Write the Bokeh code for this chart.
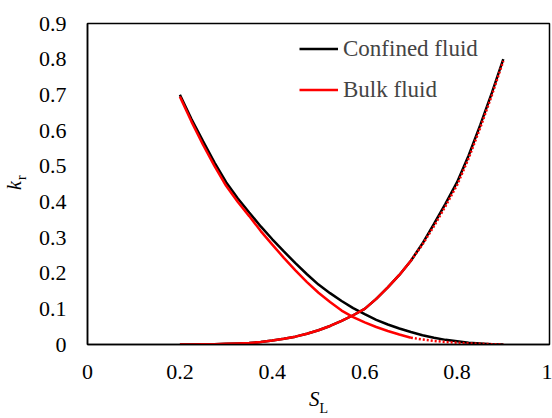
from bokeh.plotting import figure
from bokeh.models import Range1d, FixedTicker, Legend, LegendItem, ColumnDataSource, LinearAxis
from bokeh.embed import file_html
from bokeh.resources import INLINE

# ---- data ----
s_liquid = [0.200, 0.225, 0.250, 0.275, 0.300, 0.325, 0.350, 0.375, 0.400, 0.425, 0.450, 0.475,
            0.500, 0.525, 0.550, 0.575, 0.600, 0.625, 0.650, 0.675, 0.700, 0.725, 0.750, 0.775,
            0.800, 0.825, 0.850, 0.875, 0.900]
confined_kr_liquid = [0.000, 0.000, 0.0005, 0.001, 0.002, 0.003, 0.004, 0.007, 0.011, 0.016, 0.022, 0.030,
                      0.040, 0.052, 0.066, 0.082, 0.100, 0.128, 0.160, 0.195, 0.235, 0.283, 0.338, 0.395,
                      0.455, 0.530, 0.615, 0.705, 0.800]
confined_kr_gas = [0.700, 0.632, 0.570, 0.510, 0.455, 0.410, 0.370, 0.331, 0.295, 0.261, 0.228, 0.197,
                   0.168, 0.144, 0.122, 0.102, 0.085, 0.069, 0.056, 0.045, 0.035, 0.026, 0.019, 0.013,
                   0.009, 0.005, 0.003, 0.001, 0.000]
bulk_kr_liquid = [0.000, 0.000, 0.0005, 0.001, 0.002, 0.003, 0.004, 0.007, 0.011, 0.016, 0.022, 0.030,
                  0.040, 0.052, 0.066, 0.082, 0.100, 0.128, 0.160, 0.195, 0.235, 0.280, 0.332, 0.388,
                  0.447, 0.522, 0.607, 0.698, 0.795]
bulk_kr_gas = [0.695, 0.625, 0.560, 0.500, 0.445, 0.400, 0.360, 0.318, 0.280, 0.243, 0.208, 0.175,
               0.145, 0.119, 0.095, 0.077, 0.062, 0.049, 0.038, 0.028, 0.019, 0.014, 0.010, 0.007,
               0.005, 0.003, 0.002, 0.001, 0.000]
bulk_solid_until = 0.70  # bulk curves drawn solid up to here, dotted beyond

x_tick_values = [0, 0.2, 0.4, 0.6, 0.8, 1.0]
x_tick_labels = ["0", "0.2", "0.4", "0.6", "0.8", "1"]
y_tick_values = [0, 0.1, 0.2, 0.3, 0.4, 0.5, 0.6, 0.7, 0.8, 0.9]
y_tick_labels = ["0", "0.1", "0.2", "0.3", "0.4", "0.5", "0.6", "0.7", "0.8", "0.9"]
series_names = ["Confined fluid", "Bulk fluid"]
x_title = ("S", "L")   # S with subscript L
y_title = ("k", "r")   # k with subscript r

FONT = "Liberation Serif"

p = figure(width=552, height=418, x_range=Range1d(0, 1), y_range=Range1d(0, 0.9),
           output_backend="svg", toolbar_location=None,
           min_border_left=87, min_border_right=3, min_border_top=23, min_border_bottom=74)
p.background_fill_color = "white"
p.border_fill_color = "white"
p.xgrid.visible = False
p.ygrid.visible = False
p.outline_line_color = "black"
p.outline_line_width = 1.5
p.outline_line_alpha = 1.0


def plain_axis(ax, size, style="normal"):
    ax.axis_line_color = None
    ax.major_tick_line_color = None
    ax.minor_tick_line_color = None
    ax.major_tick_out = 0
    ax.major_tick_in = 0
    ax.major_label_text_font = FONT
    ax.major_label_text_font_size = size
    ax.major_label_text_font_style = style
    ax.major_label_text_color = "black"


for ax in (p.xaxis[0], p.yaxis[0]):
    plain_axis(ax, "22px")
    ax.axis_line_color = "black"
    ax.axis_line_width = 1.5

p.xaxis.ticker = FixedTicker(ticks=x_tick_values)
p.xaxis.major_label_overrides = {v: l for v, l in zip(x_tick_values, x_tick_labels)}
p.xaxis.major_label_standoff = 20
p.yaxis.ticker = FixedTicker(ticks=y_tick_values)
p.yaxis.major_label_overrides = {v: l for v, l in zip(y_tick_values, y_tick_labels)}
p.yaxis.major_label_standoff = 21

# axis titles built from extra label-only axes (main letter + subscript)
S_AT, L_AT = 0.4907, 0.5113     # horizontal text positions (axis units)
K_AT, R_AT = 0.446, 0.468       # vertical text positions (axis units)

ax_s = LinearAxis(ticker=FixedTicker(ticks=[S_AT]), major_label_overrides={S_AT: x_title[0]})
plain_axis(ax_s, "21px", "italic")
ax_s.major_label_standoff = 5
p.add_layout(ax_s, "below")
ax_l = LinearAxis(ticker=FixedTicker(ticks=[L_AT]), major_label_overrides={L_AT: x_title[1]})
plain_axis(ax_l, "14px")
ax_l.major_label_standoff = -13
p.add_layout(ax_l, "below")

ax_r = LinearAxis(ticker=FixedTicker(ticks=[R_AT]), major_label_overrides={R_AT: y_title[1]})
plain_axis(ax_r, "14px")
ax_r.major_label_orientation = "vertical"
ax_r.major_label_standoff = 6
p.add_layout(ax_r, "left")
ax_k = LinearAxis(ticker=FixedTicker(ticks=[K_AT]), major_label_overrides={K_AT: y_title[0]})
plain_axis(ax_k, "20px", "italic")
ax_k.major_label_orientation = "vertical"
ax_k.major_label_standoff = -14
p.add_layout(ax_k, "left")

n_solid = sum(1 for s in s_liquid if s <= bulk_solid_until + 1e-9)
src_c = ColumnDataSource(dict(s=s_liquid, kl=confined_kr_liquid, kg=confined_kr_gas))
src_bs = ColumnDataSource(dict(s=s_liquid[:n_solid], kl=bulk_kr_liquid[:n_solid], kg=bulk_kr_gas[:n_solid]))
src_bd = ColumnDataSource(dict(s=s_liquid[n_solid - 1:], kl=bulk_kr_liquid[n_solid - 1:], kg=bulk_kr_gas[n_solid - 1:]))

lw = 2.5
c1 = p.line("s", "kg", source=src_c, line_color="black", line_width=lw)
c2 = p.line("s", "kl", source=src_c, line_color="black", line_width=lw)
b1 = p.line("s", "kg", source=src_bs, line_color="#ff0000", line_width=lw)
b2 = p.line("s", "kl", source=src_bs, line_color="#ff0000", line_width=lw)
p.line("s", "kg", source=src_bd, line_color="#ff0000", line_width=lw, line_dash="2 2")
p.line("s", "kl", source=src_bd, line_color="#ff0000", line_width=lw, line_dash="2 2")

legend = Legend(items=[LegendItem(label=series_names[0], renderers=[c1]),
                       LegendItem(label=series_names[1], renderers=[b1])],
                location=(212, 234))
legend.border_line_color = None
legend.background_fill_alpha = 0
legend.label_text_font = FONT
legend.label_text_font_size = "23px"
legend.glyph_width = 39
legend.glyph_height = 41
legend.label_height = 41
legend.spacing = 0
legend.padding = 0
legend.margin = 0
legend.label_standoff = 5
p.add_layout(legend)

open("out.html", "w").write(file_html(p, INLINE))
